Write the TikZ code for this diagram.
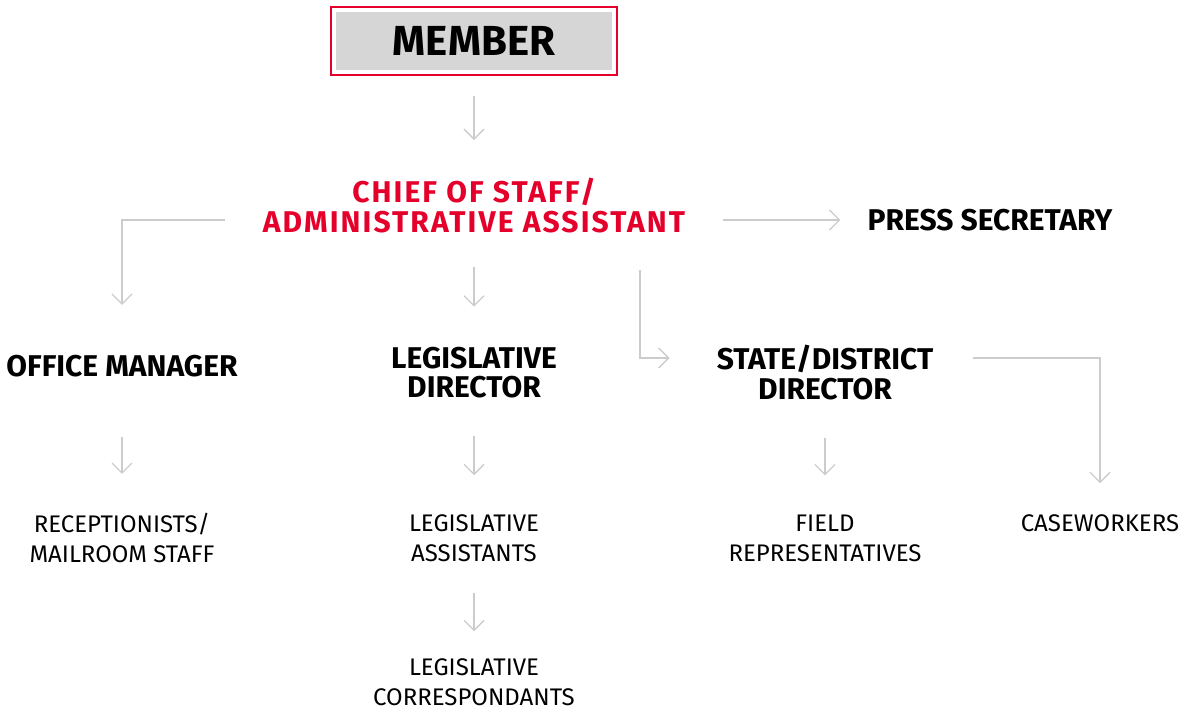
\documentclass[tikz,border=0pt]{standalone}
\usepackage{fontspec}
\setmainfont{Fira Sans}
\newfontfamily\chieffont[LetterSpace=7]{Fira Sans}
\usetikzlibrary{arrows.meta}

\definecolor{memred}{RGB}{228,0,43}
\definecolor{linkgray}{RGB}{204,204,204}
\definecolor{boxgray}{RGB}{214,214,214}

\tikzset{
  head/.style={inner sep=0, align=center, font=\fontsize{30}{29.5}\selectfont\bfseries},
  sub/.style={inner sep=0, align=center, font=\fontsize{24}{30}\selectfont},
  link/.style={draw=linkgray, line width=1.3pt, -{Straight Barb[length=10pt,width=20pt]}},
}

\begin{document}
\begin{tikzpicture}[x=1pt, y=-1pt]
\useasboundingbox (0,0) rectangle (1186,711);

%%%%%%%%%%%%%%%%%%%%%%%%%%%%%%%%%%%%%%%%%%% top
\node[fill=boxgray, inner sep=0, minimum width=276, minimum height=58, font=\fontsize{42}{44}\selectfont\bfseries](member) at (474,41){MEMBER};
\draw[memred, line width=2pt] ([shift={(-5,-5)}]member.north west) rectangle ([shift={(5,5)}]member.south east);
\node[head, text=memred, font=\fontsize{30}{29.5}\chieffont\bfseries](chief) at (474,205.5){CHIEF OF STAFF/\\ADMINISTRATIVE ASSISTANT};
\node[head](press) at (990,220){PRESS SECRETARY};

%%%%%%%%%%%%%%%%%%%%%%%%%%%%%%%%%%%%%%%%%%% directors
\node[head](office) at (122,366){OFFICE MANAGER};
\node[head](legdir) at (474,372.5){LEGISLATIVE\\DIRECTOR};
\node[head](stdir) at (825,372.5){STATE/DISTRICT\\DIRECTOR};

%%%%%%%%%%%%%%%%%%%%%%%%%%%%%%%%%%%%%%%%%%% staff
\node[sub](recep) at (122,538){RECEPTIONISTS/\\MAILROOM STAFF};
\node[sub](legasst) at (474,538){LEGISLATIVE\\ASSISTANTS};
\node[sub](legcorr) at (474,682){LEGISLATIVE\\CORRESPONDANTS};
\node[sub](field) at (825,538){FIELD\\REPRESENTATIVES};
\node[sub](casew) at (1100,523){CASEWORKERS};

%%%%% links
\draw[link, shorten <=26, shorten >=38] (member) -- (chief);
\draw[link, shorten <=38, shorten >=27] ([yshift=-14.5pt]chief.east) -- (press.west);
\draw[link, shorten <=38, shorten >=50] ([yshift=-14.5pt]chief.west) -| (office.north);
\draw[link, shorten <=34, shorten >=40] (chief.south) -- (legdir.north);
\draw[link, shorten <=37, shorten >=47] ([xshift=166pt]chief.south) |- ([yshift=14.5pt]stdir.west);
\draw[link, shorten <=40, shorten >=31] ([yshift=14.5pt]stdir.east) -| (casew.north);
\draw[link, shorten <=60, shorten >=39] (office) -- (recep);
\draw[link, shorten <=38, shorten >=39] (legdir) -- (legasst);
\draw[link, shorten <=38, shorten >=39] (stdir) -- (field);
\draw[link, shorten <=31, shorten >=27] (legasst) -- (legcorr);
\end{tikzpicture}
\end{document}
